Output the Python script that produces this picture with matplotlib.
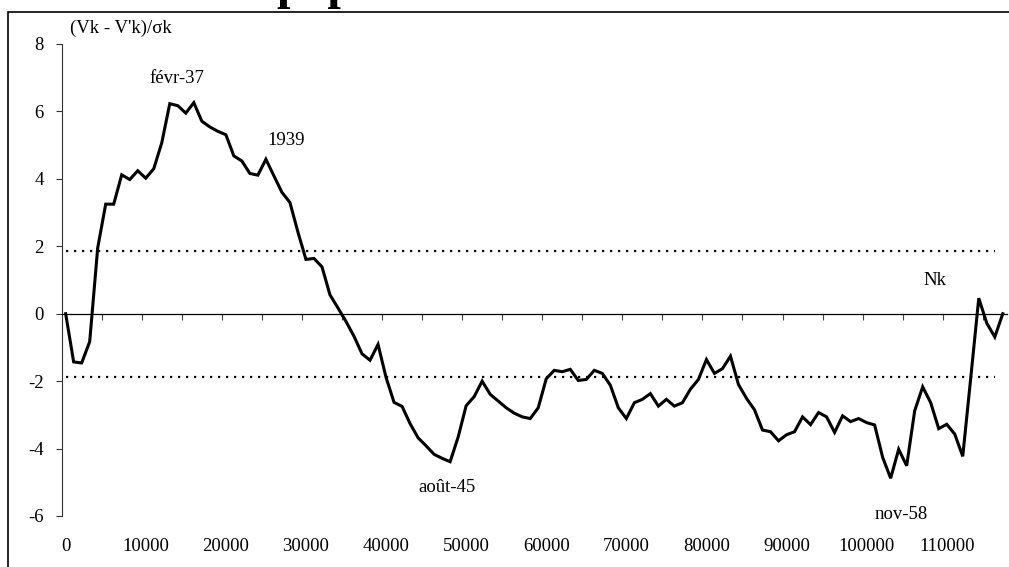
import numpy as np
import matplotlib
matplotlib.use("Agg")
import matplotlib.pyplot as plt
from matplotlib.patches import Rectangle

# ---- data ----
categories = np.arange(0, 118000, 1000)  # Nk, one category per 1000
values = [
    0.00, -1.43, -1.46, -0.83, 1.95, 3.25, 3.25, 4.12, 3.98, 4.24,
    4.02, 4.30, 5.07, 6.23, 6.17, 5.95, 6.26, 5.71, 5.54, 5.41,
    5.31, 4.68, 4.53, 4.16, 4.11, 4.58, 4.09, 3.60, 3.30, 2.42,
    1.61, 1.64, 1.39, 0.56, 0.17, -0.23, -0.67, -1.19, -1.38, -0.91,
    -1.89, -2.63, -2.75, -3.26, -3.68, -3.92, -4.17, -4.29, -4.39, -3.66,
    -2.73, -2.46, -2.00, -2.39, -2.59, -2.79, -2.95, -3.06, -3.11, -2.79,
    -1.93, -1.68, -1.72, -1.65, -1.98, -1.95, -1.68, -1.77, -2.12, -2.79,
    -3.11, -2.64, -2.54, -2.37, -2.74, -2.54, -2.74, -2.64, -2.24, -1.95,
    -1.36, -1.77, -1.63, -1.26, -2.10, -2.51, -2.85, -3.45, -3.50, -3.77,
    -3.59, -3.50, -3.06, -3.29, -2.93, -3.06, -3.52, -3.03, -3.20, -3.11,
    -3.23, -3.30, -4.26, -4.88, -4.02, -4.51, -2.88, -2.17, -2.64, -3.41,
    -3.28, -3.57, -4.23, -1.90, 0.46, -0.28, -0.69, 0.00,
]
threshold = 1.87
threshold_end = 116000
xtick_values = [0, 10000, 20000, 30000, 40000, 50000, 60000, 70000,
                80000, 90000, 100000, 110000]
xtick_labels = [str(v) for v in xtick_values]
ytick_values = [-6, -4, -2, 0, 2, 4, 6, 8]
ytick_labels = ["-6", "-4", "-2", "0", "2", "4", "6", "8"]
annotations = [
    ("févr-37", 13900, 6.83),
    ("1939", 27560, 5.00),
    ("août-45", 47670, -5.28),
    ("Nk", 108500, 0.85),
    ("nov-58", 104300, -6.09),
]
y_title = "(Vk - V'k)/σk"

# ---- figure ----
W, H = 1009, 567
fig = plt.figure(figsize=(W / 100, H / 100), dpi=100)
plt.rcParams['font.family'] = ['Liberation Serif', 'DejaVu Serif']
FS = 13.5

# outer frame (left and top edges visible)
fig.patches.append(Rectangle((8 / W, -0.2), 1.5, (567 - 12) / H + 0.2,
                             transform=fig.transFigure, fill=False,
                             edgecolor='black', lw=1.2, clip_on=False))
# clipped title (only descenders visible, as in the source)
fig.text(276 / W, 1 + 1.0 / H, "population", fontsize=35, fontweight='bold',
         ha='left', va='baseline', family=['Liberation Serif'])

left = 61.65 / W
right = 1006.8 / W
bottom = 1 - 516 / H
top = 1 - 44 / H
ax = fig.add_axes([left, bottom, right - left, top - bottom])

ax.set_xlim(categories[0] - 500, categories[-1] + 500)
ax.set_ylim(-6, 8)

ax.plot(categories, values, color='black', lw=2.2, solid_joinstyle='miter',
        zorder=5)
xs = categories[categories <= threshold_end]
ax.plot(xs, np.full(len(xs), threshold), color='black', lw=1.6,
        linestyle=(0, (1, 2.6)), zorder=3)
ax.plot(xs, np.full(len(xs), -threshold), color='black', lw=1.6,
        linestyle=(0, (1, 2.6)), zorder=3)

for s in ('top', 'right'):
    ax.spines[s].set_visible(False)
ax.spines['left'].set_color('#333333')
ax.spines['left'].set_linewidth(0.8)
ax.spines['bottom'].set_position(('data', 0))
ax.spines['bottom'].set_color('black')
ax.spines['bottom'].set_linewidth(0.9)

# boundary ticks every 5 categories on the zero axis
bticks = np.arange(4500, 115000, 5000)
ax.set_xticks(bticks)
ax.set_xticklabels([])
ax.tick_params(axis='x', direction='out', length=4.3, width=0.8,
               color='#444444')

ax.set_yticks(ytick_values)
ax.set_yticklabels(ytick_labels, fontsize=FS)
ax.tick_params(axis='y', direction='out', length=4.3, width=0.8,
               color='#333333', pad=8.7)

sec = ax.secondary_xaxis('bottom')
sec.spines['bottom'].set_visible(False)
sec.set_ticks(xtick_values, labels=xtick_labels)
sec.tick_params(length=0, pad=16, labelsize=FS)

for txt, x, y in annotations:
    ax.text(x, y, txt, fontsize=FS, ha='center', va='baseline', clip_on=False)
ax.text(540, 8.47, y_title, fontsize=FS, ha='left', va='center', clip_on=False)

fig.savefig("out.png", dpi=100)
